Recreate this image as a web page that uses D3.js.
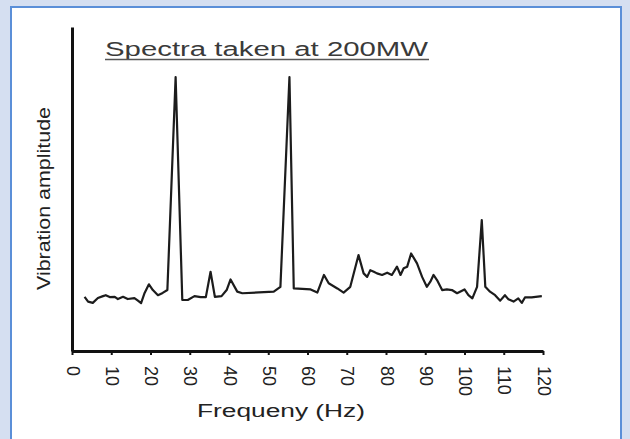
<!DOCTYPE html>
<meta charset="utf-8">
<style>
  body { margin: 0; background: #d5dff1; }
  svg { display: block; }
  text { font-family: "Liberation Sans", Arial, sans-serif; fill: #222; }
  .axis path, .axis line { stroke: #111; }
  .axis .domain { stroke-width: 3px; }
  .axis .tick line { stroke-width: 2px; }
  .spectrum { fill: none; stroke: #1c1c1c; stroke-width: 2.2px; stroke-linejoin: round; }
</style>
<body></body>
<script src="https://d3js.org/d3.v7.min.js"></script>
<script>
  // frequency (Hz) and vibration amplitude (arbitrary units)
  var freq = [3.2, 4.1, 5.3, 6.6, 7.9, 8.6, 9.6, 10.9, 11.7, 13.0, 14.2, 15.9, 16.8, 17.6, 18.5, 19.6,
    20.6, 21.9, 23.1, 24.3, 26.4, 28.1, 29.5, 31.2, 32.8, 34.1, 35.3, 36.4, 38.1, 39.4, 40.4,
    42.1, 43.4, 51.4, 53.1, 55.4, 56.5, 60.8, 62.5, 64.2, 65.4, 67.6, 69.2, 70.9, 73.0, 74.3,
    75.2, 76.0, 76.9, 77.7, 79.0, 80.3, 81.5, 82.8, 83.7, 84.5, 85.4, 86.4, 87.9, 89.2, 90.4,
    91.3, 92.1, 93.0, 94.3, 95.5, 96.8, 98.1, 100.0, 101.0, 102.0, 103.2, 104.4, 105.3, 106.5,
    107.8, 109.1, 110.3, 111.2, 112.5, 113.7, 114.6, 115.4, 117.1, 119.7];
  var amp = [16.9, 15.4, 15.0, 16.5, 17.1, 17.4, 16.8, 16.9, 16.2, 16.9, 16.2, 16.5, 15.7, 14.9, 18.1, 20.8,
    19.0, 17.4, 18.1, 19.0, 85.4, 15.9, 15.9, 17.1, 16.8, 16.8, 24.7, 16.9, 17.1, 19.0, 22.3,
    18.5, 18.0, 18.5, 20.0, 85.4, 19.5, 19.2, 18.2, 23.7, 21.1, 19.5, 18.2, 20.0, 29.9, 24.2,
    23.1, 25.2, 24.7, 24.2, 23.7, 24.4, 23.7, 26.3, 23.7, 25.8, 26.3, 30.4, 27.3, 23.1, 20.0,
    21.6, 23.7, 22.1, 19.0, 19.2, 19.0, 18.0, 19.2, 17.4, 16.4, 20.0, 40.8, 20.0, 18.5,
    17.4, 15.7, 17.4, 16.1, 15.4, 16.4, 15.0, 16.7, 16.7, 17.1];
  var xTicks = [0, 10, 20, 30, 40, 50, 60, 70, 80, 90, 100, 110, 120];

  var title = "Spectra taken at 200MW";
  var xTitle = "Frequeny (Hz)";
  var yTitle = "Vibration amplitude";

  var W = 630, H = 439;
  var data = freq.map(function(f, i) { return {f: f, a: amp[i]}; });

  var svg = d3.select("body").append("svg")
    .attr("width", W)
    .attr("height", H);

  // light blue page with white framed panel
  svg.append("rect").attr("width", W).attr("height", H).attr("fill", "#d5dff1");
  svg.append("rect")
    .attr("x", 11).attr("y", 7)
    .attr("width", 610).attr("height", 445)
    .attr("fill", "#fff")
    .attr("stroke", "#5b8fd8")
    .attr("stroke-width", 2);

  var x = d3.scaleLinear().domain([0, 120]).range([72, 543]);
  var y = d3.scaleLinear().domain([0, 101]).range([351, 27]);

  var xAxis = svg.append("g")
    .attr("class", "x axis")
    .attr("transform", "translate(0," + y(0) + ")")
    .call(d3.axisBottom(x).tickValues(xTicks).tickSize(4).tickSizeOuter(0).tickFormat(d3.format("d")));

  xAxis.selectAll(".tick text")
    .attr("y", 0).attr("dy", null)
    .attr("transform", "translate(0,15) rotate(90)")
    .attr("text-anchor", "start")
    .attr("dominant-baseline", "central")
    .style("font-size", "18px")
    .style("fill", "#222");

  svg.append("g")
    .attr("class", "y axis")
    .attr("transform", "translate(" + x(0) + ",0)")
    .call(d3.axisLeft(y).tickValues([]).tickSizeOuter(0));

  var line = d3.line()
    .x(function(d) { return x(d.f); })
    .y(function(d) { return y(d.a); });

  svg.append("path")
    .datum(data)
    .attr("class", "spectrum")
    .attr("d", line);

  // title with underline
  svg.append("text")
    .attr("x", 105).attr("y", 56)
    .attr("textLength", 323)
    .attr("lengthAdjust", "spacingAndGlyphs")
    .style("font-size", "20px")
    .style("fill", "#3a3a3a")
    .text(title);
  svg.append("line")
    .attr("x1", 105).attr("x2", 429)
    .attr("y1", 59.5).attr("y2", 59.5)
    .attr("stroke", "#555").attr("stroke-width", 1.5);

  svg.append("text")
    .attr("x", 197).attr("y", 417)
    .attr("textLength", 168)
    .attr("lengthAdjust", "spacingAndGlyphs")
    .style("font-size", "18px")
    .text(xTitle);

  svg.append("text")
    .attr("transform", "translate(50,290) rotate(-90)")
    .attr("textLength", 183)
    .attr("lengthAdjust", "spacingAndGlyphs")
    .style("font-size", "18px")
    .text(yTitle);
</script>
